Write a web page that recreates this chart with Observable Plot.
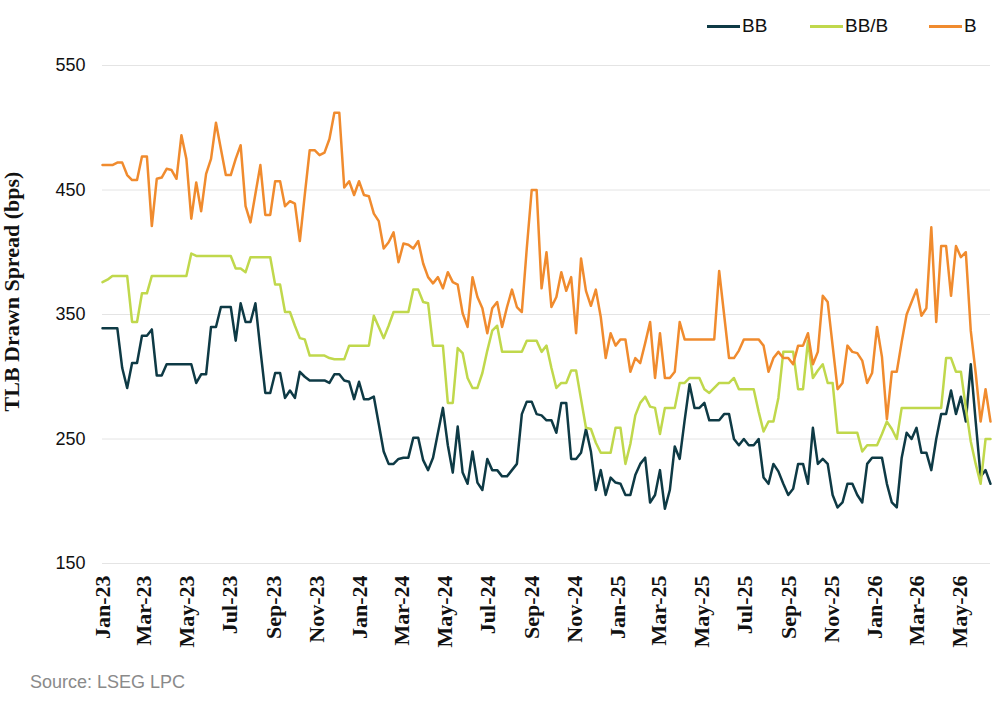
<!DOCTYPE html>
<html><head><meta charset="utf-8">
<script src="https://cdn.jsdelivr.net/npm/d3@7"></script>
<script src="https://cdn.jsdelivr.net/npm/@observablehq/plot@0.6"></script>
<style>
body{margin:0;background:#fff;width:1005px;height:703px;overflow:hidden;font-family:"Liberation Sans",Arial,sans-serif;}
#legend{height:50px;position:relative;}
.item{position:absolute;top:15px;display:flex;align-items:center;font-size:19px;color:#111;line-height:22px;}
.sw{width:33px;height:3px;margin-right:2px;}
#chart svg{display:block;}
#source{padding-left:30px;font-size:18px;color:#8a8a8a;margin-top:14px;}
</style></head><body>
<div id="legend"></div>
<div id="chart"></div>
<div id="source">Source: LSEG LPC</div>
<script>
// Weekly observations starting 2023-01-01
const seriesNames = ["BB", "BB/B", "B"];
const seriesColors = ["#0e3a45", "#c0d84c", "#f08b2e"];
const yTicks = [150, 250, 350, 450, 550];

const bb = [339,339,339,339,307,291,311,311,333,333,338,301,301,310,310,310,310,310,310,295,302,302,340,340,356,356,356,329,359,344,
344,359,322,287,287,303,303,283,289,283,304,300,297,297,297,297,295,302,302,297,296,282,296,282,282,284,262,240,230,230,
234,235,235,251,251,233,225,235,255,275,245,223,260,223,214,240,215,209,234,225,225,220,220,225,230,270,280,280,270,269,
265,265,255,279,279,234,234,239,258,240,209,225,205,219,215,214,205,205,221,230,235,199,205,225,194,209,244,234,265,294,
275,275,279,265,265,265,270,270,250,245,250,245,245,250,219,214,230,224,214,205,210,230,230,214,259,230,234,230,205,195,
199,214,214,205,199,230,235,235,235,214,199,195,235,255,250,259,239,239,225,250,270,270,289,270,284,264,310,264,220,225,
214];

const bbb = [376,378,381,381,381,381,344,344,367,367,381,381,381,381,381,381,381,381,399,397,397,397,397,397,397,397,397,387,387,384,
396,396,396,396,396,374,374,352,352,341,331,330,317,317,317,317,315,314,314,314,325,325,325,325,325,349,340,331,341,352,
352,352,352,370,370,360,359,325,325,325,279,279,323,319,299,291,291,303,321,337,341,320,320,320,320,320,329,329,329,320,
325,307,291,295,295,305,305,282,259,258,247,239,239,239,259,259,230,246,269,279,284,276,275,254,275,275,275,295,295,299,
299,299,290,287,291,295,295,295,299,290,290,290,290,272,256,264,264,283,320,320,320,290,290,329,299,305,310,295,295,255,
255,255,255,255,240,245,245,245,254,264,258,250,275,275,275,275,275,275,275,275,275,315,315,304,304,275,248,230,214,250,
250];

const b = [470,470,470,472,472,462,458,458,477,477,421,459,460,467,466,459,494,475,427,456,433,463,475,504,483,462,462,475,486,437,
424,447,470,430,430,457,457,437,441,439,409,446,482,482,478,480,491,512,512,452,457,446,457,446,445,431,425,403,408,416,
392,407,406,403,409,391,380,375,380,371,384,376,374,351,340,380,364,355,335,355,360,340,356,370,356,352,403,450,450,371,
400,356,364,384,369,380,335,395,369,357,370,348,315,335,325,330,330,304,315,311,327,344,299,335,299,299,304,344,330,330,
330,330,330,330,330,385,350,315,315,321,330,330,330,330,325,304,315,320,315,315,310,325,325,335,310,320,365,360,325,290,
295,325,320,319,313,295,303,340,316,266,304,304,328,350,360,370,349,355,420,344,405,405,365,405,396,400,337,303,264,290,
264];

const start = new Date(Date.UTC(2023, 0, 1));
const dates = b.map((_, i) => d3.utcDay.offset(start, 7 * i));
const valuesBySeries = [bb, bbb, b];
const rows = [];
seriesNames.forEach((s, k) => valuesBySeries[k].forEach((v, i) => rows.push({date: dates[i], value: v, series: s})));

const xTicks = d3.utcMonth.every(2).range(start, dates[dates.length - 1]);

// legend
const legend = document.getElementById("legend");
const legendLeft = [707, 810, 929];
seriesNames.forEach((s, k) => {
  const it = document.createElement("div");
  it.className = "item";
  it.style.left = legendLeft[k] + "px";
  it.innerHTML = `<span class="sw" style="background:${seriesColors[k]}"></span><span>${s}</span>`;
  legend.appendChild(it);
});

const serif = "Liberation Serif, Times New Roman, serif";
const chart = Plot.plot({
  width: 1005,
  height: 608,
  marginTop: 15,
  marginBottom: 95,
  marginLeft: 102,
  marginRight: 15,
  style: {fontFamily: "Liberation Sans, Arial, sans-serif", background: "white", color: "#111"},
  x: {type: "utc", domain: [start, dates[dates.length - 1]]},
  y: {domain: [150, 550]},
  color: {domain: seriesNames, range: seriesColors},
  marks: [
    Plot.gridY(yTicks, {stroke: "#e4e4e4", strokeOpacity: 1, strokeWidth: 1}),
    Plot.axisY(yTicks, {tickSize: 0, tickPadding: 17, fontSize: 18, label: null}),
    Plot.axisX(xTicks, {tickSize: 0, tickPadding: 12, tickRotate: -90, tickFormat: d3.utcFormat("%b-%y"),
      fontSize: 22, fontFamily: serif, fontWeight: "bold", label: null}),
    Plot.text(["TLB Drawn Spread (bps)"], {frameAnchor: "left", textAnchor: "middle", dx: -91, dy: -23, rotate: -90,
      fontSize: 22, fontFamily: serif, fontWeight: "bold", fill: "#111"}),
    Plot.lineY(rows, {x: "date", y: "value", stroke: "series", strokeWidth: 2.5, strokeLinejoin: "round"})
  ]
});
document.getElementById("chart").appendChild(chart);
</script>
</body></html>
